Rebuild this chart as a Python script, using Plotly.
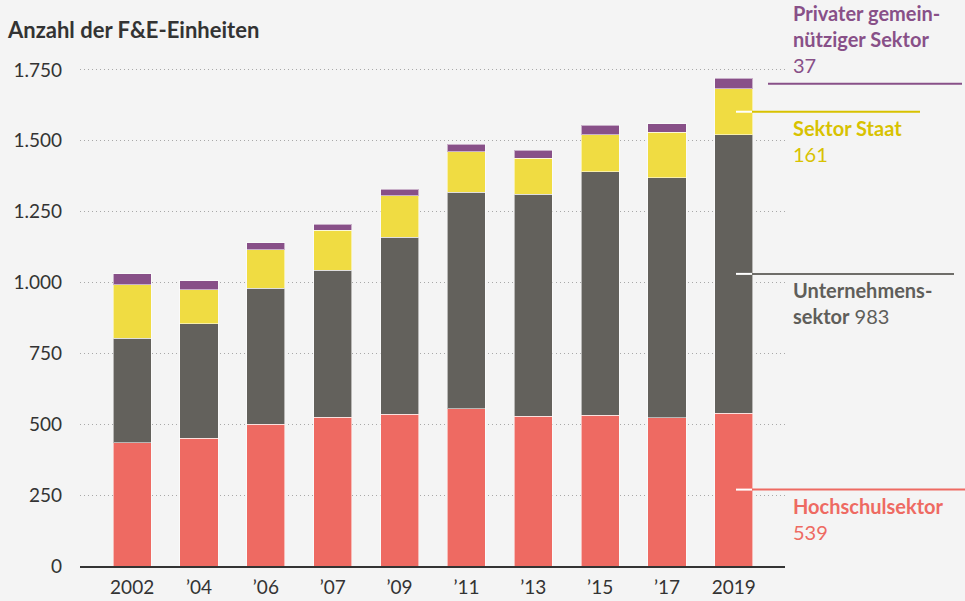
import plotly.graph_objects as go

years = ["2002", "’04", "’06", "’07", "’09", "’11", "’13", "’15", "’17", "2019"]
hochschul = [435, 451, 500, 524, 535, 555, 528, 531, 523, 539]
unternehmen = [369, 404, 480, 520, 625, 764, 784, 860, 847, 983]
staat = [189, 120, 135, 140, 147, 143, 127, 130, 161, 161]
privat = [38, 32, 26, 21, 22, 26, 28, 34, 30, 37]

y_ticks = [0, 250, 500, 750, 1000, 1250, 1500, 1750]

series = [
    ("Hochschulsektor", hochschul, "#EE6A62", "#EE6A62"),
    ("Unternehmenssektor", unternehmen, "#63615C", "#5F5E5A"),
    ("Sektor Staat", staat, "#F0DC42", "#D8C200"),
    ("Privater gemeinnütziger Sektor", privat, "#885088", "#885088"),
]

FONT = "Lato, 'Open Sans', sans-serif"
fig = go.Figure()
x_idx = list(range(len(years)))
for name, vals, col, _ in series:
    fig.add_trace(go.Bar(
        x=x_idx, y=vals, name=name, marker_color=col,
        marker_line=dict(color="rgba(255,255,255,0.55)", width=1),
        width=0.57, showlegend=False, hoverinfo="y+name",
    ))

fig.update_layout(
    barmode="stack",
    width=965, height=601,
    margin=dict(l=80, r=180, t=60, b=35),
    paper_bgcolor="#F4F4F4", plot_bgcolor="#F4F4F4",
    separators=",.",
    font=dict(family=FONT, size=19, color="#333333"),
)
fig.update_xaxes(
    range=[-0.78, 9.765], tickvals=x_idx, ticktext=years,
    showgrid=False, showline=True, linecolor="#333333", linewidth=1.5,
    ticks="", tickfont=dict(size=19, color="#333333"), zeroline=False,
    ticklabelstandoff=3, automargin=False,
)
fig.update_yaxes(
    range=[0, 1785], tickvals=y_ticks, tickformat=",.0f",
    showgrid=True, gridcolor="#A8A8A8", griddash="1px,3px", gridwidth=1,
    zeroline=False, ticks="", ticklabelstandoff=17, automargin=False,
    tickfont=dict(size=19, color="#333333"),
)

px = lambda p: (p - 80) / 705.0  # pixel -> paper x

# title
fig.add_annotation(text="<b>Anzahl der F&E-Einheiten</b>", xref="paper", yref="paper",
                   x=px(5), y=1, yshift=31, xanchor="left", yanchor="middle",
                   showarrow=False, font=dict(size=22, color="#333333", family=FONT))

# right-side labels and leader lines (at segment midpoints of the last bar)
last = len(years) - 1
cum = 0
mids = []
for name, vals, col, tcol in series:
    mids.append(cum + vals[last] / 2)
    cum += vals[last]

line_specs = [
    (mids[0], px(736), px(965), "#EE6A62"),
    (mids[1], px(736), px(954), "#6E6D69"),
    (mids[2], px(736), px(920), "#D8C200"),
    (mids[3], px(768), px(962), "#885088"),
]
for yv, x0, x1, col in line_specs:
    bar_right = px(752)
    if x0 < bar_right:
        fig.add_shape(type="line", xref="paper", yref="y", x0=x0, x1=bar_right, y0=yv, y1=yv,
                      line=dict(color="white", width=2))
        fig.add_shape(type="line", xref="paper", yref="y", x0=bar_right, x1=x1, y0=yv, y1=yv,
                      line=dict(color=col, width=2))
    else:
        fig.add_shape(type="line", xref="paper", yref="y", x0=x0, x1=x1, y0=yv, y1=yv,
                      line=dict(color=col, width=2))

labels = [
    (mids[0], f"<b>Hochschulsektor</b><br>{hochschul[last]}", "#EE6A62", "top"),
    (mids[1], f"<b>Unternehmens-</b><br><b>sektor</b> {unternehmen[last]}", "#5F5E5A", "top"),
    (mids[2], f"<b>Sektor Staat</b><br>{staat[last]}", "#D8C200", "top"),
    (mids[3], f"<b>Privater gemein-</b><br><b>nütziger Sektor</b><br>{privat[last]}", "#885088", "bottom"),
]
for yv, txt, col, anchor in labels:
    fig.add_annotation(text=txt, xref="paper", yref="y", x=px(791), y=yv,
                       xanchor="left", yanchor=anchor, align="left", showarrow=False,
                       yshift=-2 if anchor == "top" else 5,
                       font=dict(size=20, color=col, family=FONT))

fig.write_html("out.html", config={"displayModeBar": False},
               post_script="document.body.style.margin='0';document.body.style.background='#F4F4F4';")
